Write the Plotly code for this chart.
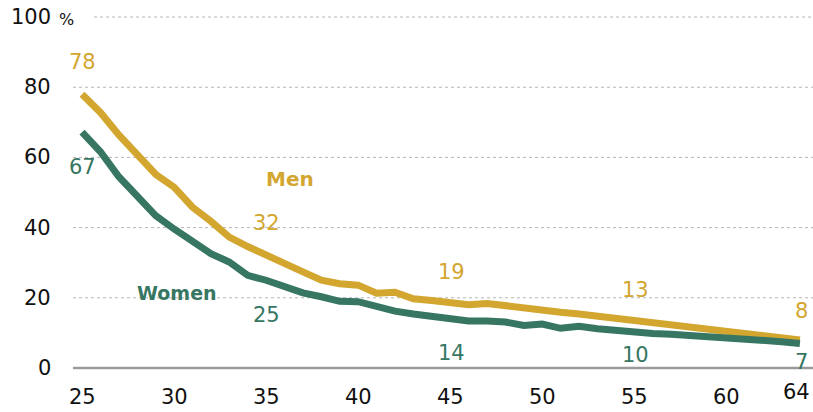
import plotly.graph_objects as go

ages = list(range(25, 65))
men = [78, 72.8, 66.4, 60.7, 55.2, 51.5, 45.8, 41.8, 37.3, 34.6,
       32.3, 30.2, 27.4, 25.0, 24.0, 23.6, 21.3, 21.6, 19.7, 19.2,
       18.6, 18.0, 18.4, 17.7, 16.9, 16.7, 15.9, 15.4, 14.8, 14.1,
       13.4, 12.6, 12.1, 11.6, 10.8, 10.2, 9.6, 9.3, 8.7, 8.0]
women = [67.2, 61.6, 54.5, 48.6, 43.4, 39.6, 36.2, 32.6, 30.2, 26.4,
         25.0, 23.0, 21.4, 20.3, 19.0, 18.9, 17.4, 16.2, 15.4, 14.6,
         13.9, 13.4, 13.4, 13.1, 12.1, 12.5, 11.3, 11.9, 11.2, 10.6,
         10.3, 9.8, 9.6, 9.3, 8.6, 8.5, 8.2, 7.8, 7.5, 7.0]
label_ages = [25, 35, 45, 55, 64]
x_ticks = [25, 30, 35, 40, 45, 50, 55, 60, 64]
y_ticks = [0, 20, 40, 60, 80, 100]

GOLD = "#D3A62F"
GREEN = "#377662"
FONT = "DejaVu Sans"

fig = go.Figure()
fig.add_trace(go.Scatter(x=ages, y=men, mode="lines",
                         line=dict(color=GOLD, width=7), hoverinfo="skip"))
fig.add_trace(go.Scatter(x=ages, y=women, mode="lines",
                         line=dict(color=GREEN, width=7), hoverinfo="skip"))

shapes = []
for v in y_ticks:
    if v == 0:
        shapes.append(dict(type="line", xref="paper", yref="y", x0=0, x1=1, y0=v, y1=v,
                           line=dict(color="#9a9a9a", width=2.5), layer="below"))
    else:
        shapes.append(dict(type="line", xref="paper", yref="y",
                           x0=0.0284 if v == 100 else 0, x1=1, y0=v, y1=v,
                           line=dict(color="#b5b5b5", width=1, dash="dot"), layer="below"))

ann = []
for v in y_ticks:
    ann.append(dict(xref="paper", yref="y", x=-0.027, y=v, text=str(v), showarrow=False,
                    xanchor="right", yanchor="middle",
                    font=dict(family=FONT, size=21, color="#111")))
ann.append(dict(xref="paper", yref="y", x=-0.021, y=99.2, text="%", showarrow=False,
                xanchor="left", yanchor="middle", font=dict(family=FONT, size=16, color="#111")))
for t in x_ticks:
    ann.append(dict(xref="x", yref="paper", x=63.8 if t == 64 else t,
                    y=-0.047 if t == 64 else -0.060,
                    text=str(t), showarrow=False, xanchor="center", yanchor="middle",
                    font=dict(family=FONT, size=21, color="#111")))

men_pos = {25: (25.05, 87.2), 35: (35.02, 41.3), 45: (45.07, 27.4), 55: (55.06, 22.2), 64: (64.1, 16.2)}
women_pos = {25: (25.0, 57.3), 35: (35.02, 15.1), 45: (45.07, 4.3), 55: (55.06, 3.7), 64: (64.1, 1.7)}
for a in label_ages:
    i = ages.index(a)
    mx, my = men_pos[a]
    ann.append(dict(x=mx, y=my, text=str(round(men[i])), showarrow=False,
                    font=dict(family=FONT, size=21, color=GOLD)))
    wx, wy = women_pos[a]
    ann.append(dict(x=wx, y=wy, text=str(round(women[i])), showarrow=False,
                    font=dict(family=FONT, size=21, color=GREEN)))

ann.append(dict(x=36.3, y=53.8, text="<b>Men</b>", showarrow=False,
                font=dict(family=FONT, size=20, color=GOLD)))
ann.append(dict(x=30.16, y=21.4, text="<b>Women</b>", showarrow=False,
                font=dict(family=FONT, size=19, color=GREEN)))

fig.update_layout(
    width=813, height=412,
    margin=dict(l=73, r=0, t=10, b=37),
    paper_bgcolor="white", plot_bgcolor="white",
    showlegend=False,
    xaxis=dict(range=[24.51, 64.71], showgrid=False, zeroline=False, showticklabels=False,
               ticks="", showline=False, fixedrange=True),
    yaxis=dict(range=[-2, 102], showgrid=False, zeroline=False, showticklabels=False,
               ticks="", showline=False, fixedrange=True),
    shapes=shapes, annotations=ann,
)
fig.write_html("out.html", config={"displayModeBar": False},
               post_script="document.body.style.margin='0';document.body.style.padding='0';")
